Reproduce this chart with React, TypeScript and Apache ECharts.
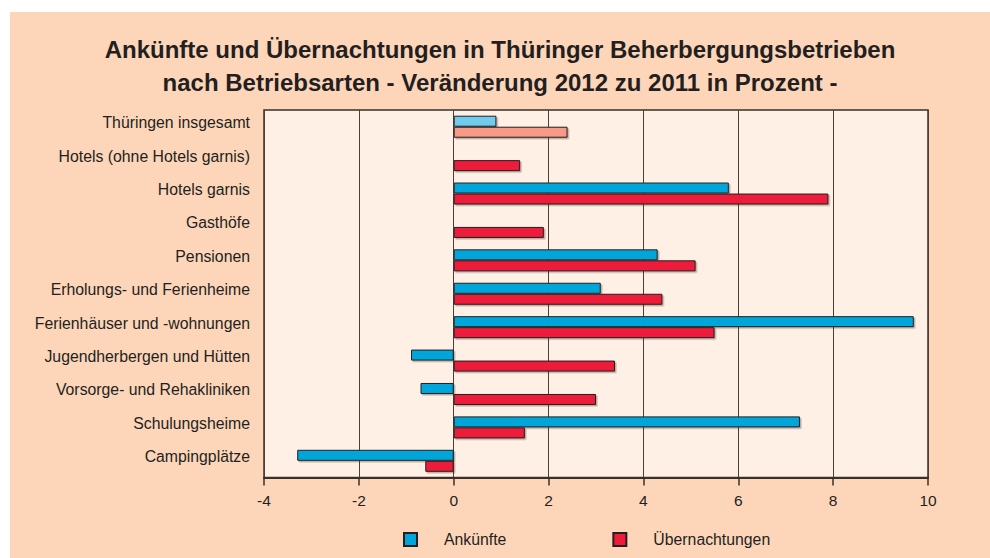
import React, { useEffect, useRef } from "react";
import * as echarts from "echarts";

const categories = [
  "Thüringen insgesamt",
  "Hotels (ohne Hotels garnis)",
  "Hotels garnis",
  "Gasthöfe",
  "Pensionen",
  "Erholungs- und Ferienheime",
  "Ferienhäuser und -wohnungen",
  "Jugendherbergen und Hütten",
  "Vorsorge- und Rehakliniken",
  "Schulungsheime",
  "Campingplätze",
];

const ankuenfte = [0.9, 0, 5.8, 0, 4.3, 3.1, 9.7, -0.9, -0.7, 7.3, -3.3];
const uebernachtungen = [2.4, 1.4, 7.9, 1.9, 5.1, 4.4, 5.5, 3.4, 3.0, 1.5, -0.6];

const seriesNames = ["Ankünfte", "Übernachtungen"];
const titleLines = [
  "Ankünfte und Übernachtungen in Thüringer Beherbergungsbetrieben",
  "nach Betriebsarten - Veränderung 2012 zu 2011 in Prozent -",
];

const BLUE = "#00a6d9";
const RED = "#ee1c3a";
const LIGHT_BLUE = "#70cbed";
const LIGHT_RED = "#f79a88";
const INK = "#231f20";
const FONT = "'Liberation Sans', Arial, Helvetica, sans-serif";

export default function App() {
  const ref = useRef<HTMLDivElement>(null);

  useEffect(() => {
    if (!ref.current) return;
    const chart = echarts.init(ref.current, null, { renderer: "svg" });
    const barStyle = (color: string) => ({
      color,
      borderColor: INK,
      borderWidth: 1,
      shadowColor: "rgba(60,40,30,0.35)",
      shadowOffsetX: 1.5,
      shadowOffsetY: 1.5,
      shadowBlur: 1,
    });
    chart.setOption({
      animation: false,
      backgroundColor: "#fdd6ba",
      textStyle: { fontFamily: FONT, color: INK },
      title: {
        text: titleLines.join("\n"),
        left: "center",
        top: 21,
        padding: 0,
        textStyle: {
          fontSize: 24,
          fontWeight: "bold",
          color: INK,
          lineHeight: 33,
          fontFamily: FONT,
        },
      },
      legend: {
        left: 393,
        top: 519.5,
        padding: 0,
        itemWidth: 13,
        itemHeight: 13,
        itemGap: 106,
        icon: "rect",
        data: seriesNames,
        textStyle: {
          fontSize: 15.8,
          color: INK,
          padding: [0, 0, 0, 22],
          fontFamily: FONT,
        },
      },
      grid: {
        left: 254,
        right: 62,
        top: 98,
        bottom: 80.5,
        show: true,
        backgroundColor: "#fff0e6",
        borderColor: "#3a2f2a",
        borderWidth: 1.5,
      },
      xAxis: {
        type: "value",
        min: -4,
        max: 10,
        interval: 2,
        axisLine: { show: true, onZero: false, lineStyle: { color: "#3a2f2a", width: 2 } },
        axisTick: { show: true, length: 8, lineStyle: { color: "#3a2f2a", width: 1.5 } },
        axisLabel: {
          margin: 15,
          fontSize: 15.5,
          color: INK,
          fontFamily: FONT,
        },
        splitLine: { show: true, lineStyle: { color: "#4a3f3a", width: 1 } },
      },
      yAxis: {
        type: "category",
        data: categories,
        inverse: true,
        axisLine: { show: false },
        axisTick: { show: false },
        splitLine: { show: false },
        axisLabel: {
          margin: 14,
          fontSize: 15.8,
          color: INK,
          verticalAlign: "bottom",
          lineHeight: 8,
          fontFamily: FONT,
        },
      },
      series: [
        {
          name: seriesNames[0],
          type: "bar",
          barWidth: 11,
          barGap: "0%",
          itemStyle: barStyle(BLUE),
          data: ankuenfte.map((v, i) =>
            i === 0 ? { value: v, itemStyle: barStyle(LIGHT_BLUE) } : v
          ),
        },
        {
          name: seriesNames[1],
          type: "bar",
          barWidth: 11,
          barGap: "0%",
          itemStyle: barStyle(RED),
          data: uebernachtungen.map((v, i) =>
            i === 0 ? { value: v, itemStyle: barStyle(LIGHT_RED) } : v
          ),
        },
      ],
    });
    return () => chart.dispose();
  }, []);

  return (
    <div
      ref={ref}
      style={{ position: "absolute", left: 10, top: 12, width: 980, height: 546 }}
    />
  );
}
